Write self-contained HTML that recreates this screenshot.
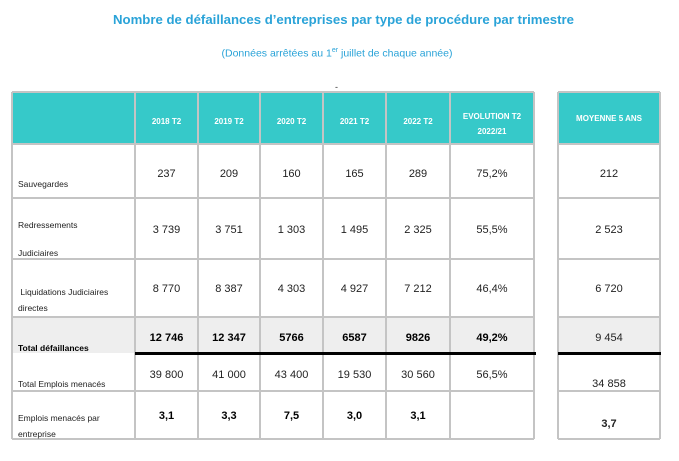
<!DOCTYPE html>
<html><head><meta charset="utf-8">
<style>
body{margin:0;width:679px;height:461px;background:#fff;position:relative;overflow:hidden;font-family:"Liberation Sans",sans-serif;}
.a{position:absolute;}
.t{color:#2aa3d8;white-space:nowrap;}
.cell{position:absolute;box-sizing:border-box;}
.txt{position:absolute;white-space:nowrap;color:#222;}
</style></head><body>
<div class="a t" style="left:113px;top:12px;width:447px;text-align:center;font-weight:bold;font-size:13.2px;">Nombre de défaillances d’entreprises par type de procédure par trimestre</div>
<div class="a t" style="left:200px;top:47px;width:274px;text-align:center;font-size:10.5px;">(Données arrêtées au 1<sup style="font-size:7px">er</sup> juillet de chaque année)</div>
<div class="a" style="left:335px;top:82px;font-size:9px;color:#333">-</div>
<div id="root"></div>
<script>
const headers=["2018 T2","2019 T2","2020 T2","2021 T2","2022 T2","EVOLUTION T2<br>2022/21"];
const rowLabels=["Sauvegardes","Redressements<br><br>Judiciaires","&nbsp;Liquidations Judiciaires<br>directes","Total défaillances","Total Emplois menacés","Emplois menacés par<br>entreprise"];
const sauvegardes=["237","209","160","165","289","75,2%"];
const redressements=["3 739","3 751","1 303","1 495","2 325","55,5%"];
const liquidations=["8 770","8 387","4 303","4 927","7 212","46,4%"];
const totalDef=["12 746","12 347","5766","6587","9826","49,2%"];
const emplois=["39 800","41 000","43 400","19 530","30 560","56,5%"];
const emploisParEnt=["3,1","3,3","7,5","3,0","3,1",""];
const moyenne=["212","2 523","6 720","9 454","34 858","3,7"];
const rows=[sauvegardes,redressements,liquidations,totalDef,emplois,emploisParEnt];
const colX=[12,135,198,260,323,386,450,534];
const rowY=[92,144,198,259,317,353,391,439];
const labelTop=[176,218,284,340,376,410];
const valMid=[175,231,290,339,376,417];
const moyMid=[175,231,290,339,385,425];
const bold=[false,false,false,true,false,true];
const root=document.getElementById('root');
function box(x,y,w,h,css,name){const d=document.createElement('div');d.className='cell';d.style.cssText=`left:${x}px;top:${y}px;width:${w}px;height:${h}px;`+css;


root.appendChild(d);return d;}
function text(x,y,w,html,css,name){const d=document.createElement('div');d.className='txt';d.style.cssText=`left:${x}px;top:${y}px;width:${w}px;`+css;d.innerHTML=html;


root.appendChild(d);return d;}
// header backgrounds
box(12,92,522,52,'background:#36c9c9;','header-bg');
box(558,92,102,52,'background:#36c9c9;','moyenne-header-bg');
box(12,317,522,36,'background:#eeeeee;','total-row-bg');
box(558,317,102,36,'background:#eeeeee;','moyenne-total-bg');
// grid lines
for(let i=0;i<colX.length;i++){box(colX[i]-1,92,2,347,'background:#c4c4c4;','col-line');}
for(let j=0;j<rowY.length;j++){if(j===5)continue;box(12,rowY[j]-1,522,2,'background:#c4c4c4;','row-line');box(558,rowY[j]-1,102,2,'background:#c4c4c4;','moyenne-row-line');}
box(557,92,2,347,'background:#c4c4c4;','moyenne-left-line');
box(659,92,2,347,'background:#c4c4c4;','moyenne-right-line');
box(135,352,401,3,'background:#000;','total-separator');
box(558,352,103,3,'background:#000;','moyenne-total-separator');
// headers
headers.forEach((h,i)=>{const x=colX[i+1],w=colX[i+2]-x;text(x,h.includes('<br>')?109:114,w,h,'text-align:center;color:#fff;font-weight:bold;font-size:8px;line-height:15px;','header-'+i);});
text(558,114,102,'MOYENNE 5 ANS','text-align:center;color:#fff;font-weight:bold;font-size:8px;','header-moyenne');
// body
rows.forEach((r,j)=>{
 text(18,labelTop[j],115,rowLabels[j],'font-size:8.5px;line-height:'+(j===1?'14px':'16px')+';'+(bold[j]&&j===3?'font-weight:bold;color:#000;':''),'row-label-'+j);
 r.forEach((v,i)=>{const x=colX[i+1],w=colX[i+2]-x;text(x,valMid[j]-7,w,v,'text-align:center;font-size:11px;'+(bold[j]?'font-weight:bold;color:#000;':''),'cell-'+j+'-'+i);});
 text(558,moyMid[j]-7,102,moyenne[j],'text-align:center;font-size:11px;'+(j===5?'font-weight:bold;':''),'moyenne-'+j);
});
</script>
</body></html>
